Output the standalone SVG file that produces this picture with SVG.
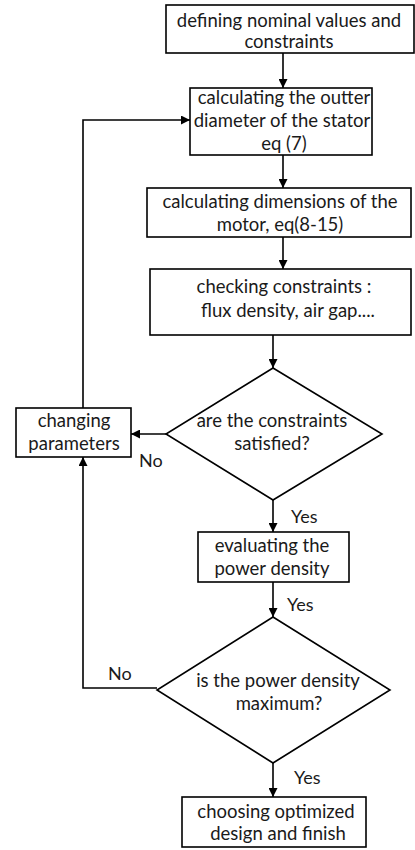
<svg xmlns="http://www.w3.org/2000/svg" width="415" height="850" viewBox="0 0 415 850">
<style>
.box{fill:#fff;stroke:#000;stroke-width:1.6}
.t{font-family:Lato,"Liberation Sans",sans-serif;font-size:18.5px;fill:#1a1a1a;text-anchor:middle}
.l{font-family:Lato,"Liberation Sans",sans-serif;font-size:18px;fill:#1a1a1a}
.c{fill:none;stroke:#000;stroke-width:1.6}
</style>
<defs>
<marker id="ah" viewBox="0 0 10 10" refX="10" refY="5" markerWidth="9" markerHeight="9" markerUnits="userSpaceOnUse" orient="auto">
<path d="M0,0 L10,5 L0,10 Z" fill="#000"/>
</marker>
</defs>
<rect width="415" height="850" fill="#fff"/>
<g id="connectors">
<line class="c" x1="283" y1="53" x2="283" y2="88" marker-end="url(#ah)"/>
<line class="c" x1="283" y1="155" x2="283" y2="188" marker-end="url(#ah)"/>
<line class="c" x1="283" y1="237" x2="283" y2="269" marker-end="url(#ah)"/>
<line class="c" x1="273" y1="335" x2="273" y2="368" marker-end="url(#ah)"/>
<line class="c" x1="166" y1="434" x2="131" y2="434" marker-end="url(#ah)"/>
<polyline class="c" points="83,408 83,120 190,120" marker-end="url(#ah)"/>
<polyline class="c" points="157,688 83,688 83,457" marker-end="url(#ah)"/>
<line class="c" x1="273" y1="500" x2="273" y2="532" marker-end="url(#ah)"/>
<line class="c" x1="273" y1="582" x2="273" y2="617" marker-end="url(#ah)"/>
<line class="c" x1="273" y1="763" x2="273" y2="797" marker-end="url(#ah)"/>
<text class="l" x="139" y="467">No</text>
<text class="l" x="108" y="680">No</text>
<text class="l" x="291" y="523">Yes</text>
<text class="l" x="287" y="611">Yes</text>
<text class="l" x="294" y="784">Yes</text>
</g>
<g id="n1">
<rect class="box" x="166" y="5" width="248" height="48"/>
<text class="t" x="289" y="27">defining nominal values and</text>
<text class="t" x="289" y="48">constraints</text>
</g>
<g id="n2">
<rect class="box" x="190" y="88" width="182" height="67"/>
<text class="t" x="284" y="104">calculating the outter</text>
<text class="t" x="282" y="127">diameter of the stator</text>
<text class="t" x="284" y="150">eq (7)</text>
</g>
<g id="n3">
<rect class="box" x="147" y="188" width="264" height="49"/>
<text class="t" x="280" y="208">calculating dimensions of the</text>
<text class="t" x="280" y="231">motor, eq(8-15)</text>
</g>
<g id="n4">
<rect class="box" x="150" y="269" width="261" height="66"/>
<text class="t" x="284" y="293">checking constraints :</text>
<text class="t" x="288" y="317">flux density, air gap....</text>
</g>
<g id="d1">
<polygon class="box" points="273,368 382,434 273,500 166,434"/>
<text class="t" x="272" y="427">are the constraints</text>
<text class="t" x="272" y="450">satisfied?</text>
</g>
<g id="n5">
<rect class="box" x="16" y="408" width="115" height="49"/>
<text class="t" x="74" y="427">changing</text>
<text class="t" x="74" y="450">parameters</text>
</g>
<g id="n6">
<rect class="box" x="198" y="532" width="151" height="50"/>
<text class="t" x="272" y="552">evaluating the</text>
<text class="t" x="272" y="575">power density</text>
</g>
<g id="d2">
<polygon class="box" points="273,617 390,690 273,763 157,690"/>
<text class="t" x="278" y="687">is the power density</text>
<text class="t" x="279" y="710">maximum?</text>
</g>
<g id="n7">
<rect class="box" x="182" y="797" width="184" height="50"/>
<text class="t" x="276" y="818">choosing optimized</text>
<text class="t" x="278" y="840">design and finish</text>
</g>
</svg>
